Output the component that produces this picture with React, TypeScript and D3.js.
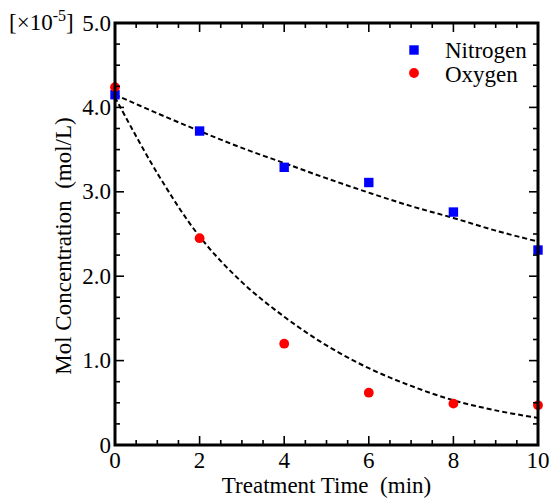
import React from "react";
import * as d3 from "d3";

const times = [0, 2, 4, 6, 8, 10];
const nitrogen = [4.15, 3.72, 3.29, 3.11, 2.76, 2.31];
const oxygen = [4.24, 2.45, 1.2, 0.62, 0.49, 0.47];

const fitTimes = [0, 1, 2, 3, 4, 5, 6, 7, 8, 9, 10];
const nitrogenFit = [4.15, 3.93, 3.72, 3.52, 3.34, 3.16, 2.99, 2.83, 2.69, 2.54, 2.41];
const oxygenFit = [4.12, 3.22, 2.47, 1.93, 1.52, 1.18, 0.91, 0.7, 0.53, 0.41, 0.32];

const xMajor = [0, 2, 4, 6, 8, 10];
const xMinor = [0.5, 1, 1.5, 2.5, 3, 3.5, 4.5, 5, 5.5, 6.5, 7, 7.5, 8.5, 9, 9.5];
const yMajor = [0, 1, 2, 3, 4, 5];
const yMinor = [0.25, 0.5, 0.75, 1.25, 1.5, 1.75, 2.25, 2.5, 2.75, 3.25, 3.5, 3.75, 4.25, 4.5, 4.75];
const yLabels = ["0", "1.0", "2.0", "3.0", "4.0", "5.0"];
const xLabels = ["0", "2", "4", "6", "8", "10"];

const FONT = "'Liberation Serif', 'Times New Roman', serif";

export default function App() {
  const W = 550, H = 504;
  const L = 115, R = 538, T = 23, B = 445;
  const x = d3.scaleLinear().domain([0, 10]).range([L, R]);
  const y = d3.scaleLinear().domain([0, 5]).range([B, T]);
  const line = d3
    .line<number>()
    .x((_, i) => x(fitTimes[i]))
    .y((d) => y(d))
    .curve(d3.curveCatmullRom);
  const major = 9, minor = 5;
  const tickStroke = 1.6;
  const sq = 9.4;

  return (
    <svg
      width={W}
      height={H}
      style={{ position: "absolute", left: 0, top: 0, background: "#fff" }}
      fontFamily={FONT}
    >
      <rect x={0} y={0} width={W} height={H} fill="#fff" />
      {/* fit curves */}
      <path d={line(nitrogenFit) || ""} fill="none" stroke="#000" strokeWidth={2} strokeDasharray="5,3" />
      <path d={line(oxygenFit) || ""} fill="none" stroke="#000" strokeWidth={2} strokeDasharray="5,3" />
      {/* data */}
      {times.map((t, i) => (
        <rect key={"n" + i} x={x(t) - sq / 2} y={y(nitrogen[i]) - sq / 2} width={sq} height={sq} fill="#0000ff" />
      ))}
      {times.map((t, i) => (
        <circle key={"o" + i} cx={x(t)} cy={y(oxygen[i])} r={4.9} fill="#ff0000" />
      ))}
      {/* ticks */}
      <g stroke="#000" strokeWidth={tickStroke}>
        {xMajor.map((v) => (
          <g key={"xm" + v}>
            <line x1={x(v)} x2={x(v)} y1={B} y2={B - major} />
            <line x1={x(v)} x2={x(v)} y1={T} y2={T + major} />
          </g>
        ))}
        {xMinor.map((v) => (
          <g key={"xn" + v}>
            <line x1={x(v)} x2={x(v)} y1={B} y2={B - minor} />
            <line x1={x(v)} x2={x(v)} y1={T} y2={T + minor} />
          </g>
        ))}
        {yMajor.map((v) => (
          <g key={"ym" + v}>
            <line x1={L} x2={L + major} y1={y(v)} y2={y(v)} />
            <line x1={R} x2={R - major} y1={y(v)} y2={y(v)} />
          </g>
        ))}
        {yMinor.map((v) => (
          <g key={"yn" + v}>
            <line x1={L} x2={L + minor} y1={y(v)} y2={y(v)} />
            <line x1={R} x2={R - minor} y1={y(v)} y2={y(v)} />
          </g>
        ))}
      </g>
      {/* frame */}
      <rect x={L} y={T} width={R - L} height={B - T} fill="none" stroke="#000" strokeWidth={3} />
      {/* tick labels */}
      <g fontSize={23} fill="#000">
        {xMajor.map((v, i) => (
          <text key={"xl" + v} x={x(v)} y={B + 23} textAnchor="middle">
            {xLabels[i]}
          </text>
        ))}
        {yMajor.map((v, i) => (
          <text key={"yl" + v} x={L - 4} y={y(v) + 7.5} textAnchor="end">
            {yLabels[i]}
          </text>
        ))}
      </g>
      {/* multiplier */}
      <text x={9} y={30} fontSize={23} fill="#000">
        [×10
        <tspan fontSize={16} dy={-9}>-5</tspan>
        <tspan dy={9}>]</tspan>
      </text>
      {/* axis titles */}
      <text x={(L + R) / 2} y={493} textAnchor="middle" fontSize={23} fill="#000">
        Treatment Time{"\u00a0\u00a0"}(min)
      </text>
      <text
        transform={`translate(71,${(T + B) / 2 + 12}) rotate(-90)`}
        textAnchor="middle"
        fontSize={23}
        fill="#000"
      >
        Mol Concentration{"\u00a0\u00a0"}(mol/L)
      </text>
      {/* legend */}
      <rect x={414 - sq / 2} y={50 - sq / 2} width={sq} height={sq} fill="#0000ff" />
      <text x={445} y={58} fontSize={23} fill="#000">Nitrogen</text>
      <circle cx={414} cy={73} r={4.9} fill="#ff0000" />
      <text x={445} y={82} fontSize={23} fill="#000">Oxygen</text>
    </svg>
  );
}
